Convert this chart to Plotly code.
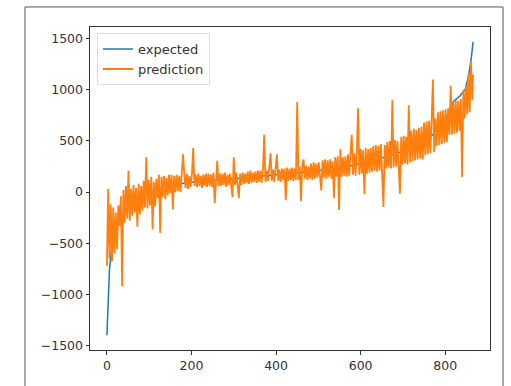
import plotly.graph_objects as go

# ---- data ----
expected_idx = [0, 2, 4, 6, 10, 15, 25, 40, 60, 80, 100, 130, 170, 220, 300, 380, 450,
                520, 580, 640, 700, 750, 790, 820, 835, 848, 856, 862, 866]
expected_val = [-1400, -1100, -900, -760, -600, -480, -330, -200, -110, -50, -10, 40, 80,
                105, 130, 160, 190, 220, 260, 320, 400, 500, 620, 890, 940, 1010, 1150, 1320, 1470]

pred_idx = list(range(0, 865, 3)) + [866]
pred_val = [
    -720, 30, -650, -120, -680, -150, -600, -200, -560, -130,
    -330, -40, -920, 20, -300, 60, -260, 210, -280, 30,
    -230, 70, -200, 40, -340, 80, -220, 60, -180, 110,
    -150, 340, -160, 120, -130, 150, -365, 100, -140, 130,
    -60, 170, -400, 150, -50, 160, -70, 140, -30, 170,
    -10, 170, -170, 160, 0, 170, 10, 160, 0, 180,
    370, 170, 40, 180, 30, 160, 50, 170, 430, 60,
    170, 50, 180, 60, 160, 40, 170, 60, 180, 50,
    180, 60, 170, 50, 190, -110, 170, 305, 60, 180,
    60, 180, 70, 190, 50, 170, 70, 180, 60, -50,
    340, 70, 190, 80, -60, 180, 70, 190, 80, 180,
    90, 200, 80, 210, 90, 190, 100, 200, 90, 210,
    100, 210, 90, 220, 560, 100, 210, 110, 220, 380,
    110, 220, 100, 230, 370, 110, 220, 100, 230, 120,
    230, -80, 240, 110, 230, 120, 240, 110, 230, 120,
    880, 120, 250, -90, 260, 320, 130, 260, 120, 250,
    130, 280, 120, 290, 130, 280, 140, 290, 120, 15,
    310, 140, 320, 130, 310, 150, 320, 130, 300, -60,
    340, 150, 350, -175, 420, 150, 340, 160, 350, 150,
    370, 160, 380, 560, 170, 380, 160, 390, 820, 170,
    420, 180, 410, -20, 430, 180, 420, 190, 430, 200,
    450, 210, 460, 200, 450, 210, 470, 220, -145, 460,
    230, 490, 240, 500, 230, 900, 240, 510, 250, 500,
    260, -15, 540, 270, 550, 280, 540, 270, 850, 290,
    600, 300, 620, 310, 610, 320, 630, 330, 640, 320,
    680, 360, 690, 370, 700, 380, 700, 1100, 390, 720,
    450, 780, 460, 790, 470, 800, 480, 810, 490, 820,
    560, 1040, 560, 880, 570, 900, 580, 890, 600, 910,
    145, 1000, 720, 1050, 760, 1150, 780, 1280, 900, 1150,
]

ytick_vals = [-1500, -1000, -500, 0, 500, 1000, 1500]
ytick_text = ["\u22121500", "\u22121000", "\u2212500", "0", "500", "1000", "1500"]
xtick_vals = [0, 200, 400, 600, 800]
xtick_text = ["0", "200", "400", "600", "800"]

fig = go.Figure()
fig.add_trace(go.Scatter(x=expected_idx, y=expected_val, mode="lines", name="expected",
                         line=dict(color="#1f77b4", width=1.5)))
fig.add_trace(go.Scatter(x=pred_idx, y=pred_val, mode="lines", name="prediction",
                         line=dict(color="#ff7f0e", width=1.8)))

axis_common = dict(showgrid=False, zeroline=False, showline=True, linecolor="#333",
                   linewidth=1, mirror=True, ticks="outside", ticklen=3.5,
                   tickcolor="#333", tickfont=dict(family="DejaVu Sans", size=12.5, color="#333"))

fig.update_layout(
    width=511, height=386,
    margin=dict(l=90, r=21, t=27, b=36),
    paper_bgcolor="white", plot_bgcolor="white",
    xaxis=dict(range=[-40, 906], tickvals=xtick_vals, ticktext=xtick_text, **axis_common),
    yaxis=dict(range=[-1545, 1615], tickvals=ytick_vals, ticktext=ytick_text, **axis_common),
    legend=dict(x=0.0175, y=0.981, xanchor="left", yanchor="top",
                bgcolor="rgba(255,255,255,0.8)", bordercolor="#ddd", borderwidth=1,
                font=dict(family="DejaVu Sans", size=13, color="#333"),
                tracegroupgap=2),
    showlegend=True,
)
fig.add_shape(type="rect", xref="paper", yref="paper",
              x0=-0.1625, x1=1.0325, y0=-0.2, y1=1.062,
              line=dict(color="#555", width=1), fillcolor="rgba(0,0,0,0)", layer="below")

fig.write_html("out.html")
